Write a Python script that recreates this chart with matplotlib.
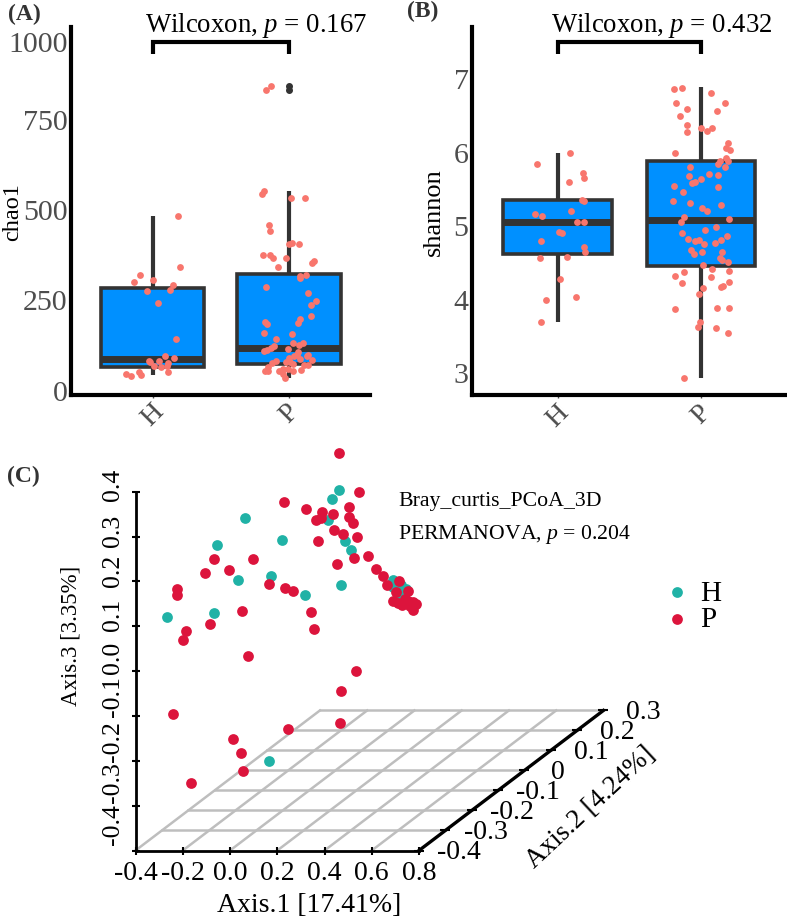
import numpy as np
import matplotlib
matplotlib.use('Agg')
import matplotlib.pyplot as plt
from matplotlib.transforms import ScaledTranslation

plt.rcParams['font.family'] = ['Liberation Serif', 'DejaVu Serif']
plt.rcParams['mathtext.fontset'] = 'custom'
plt.rcParams['mathtext.rm'] = 'Liberation Serif'
plt.rcParams['mathtext.it'] = 'Liberation Serif:italic'

W, H = 787, 920

# panel A, jitter offset from the category and chao1 value
chao_h_off = [.188, .198, -.095, 0, -.139, .149, .127, -.044, .037, .169, .090, .156,
              -.029, -.015, .046, .117, .010, .108, .064, .115, -.098, -.081, -.193, -.159]
chao_h = [481, 339, 319, 304, 299, 290, 277, 272, 241, 140, 93, 89,
          79, 78, 79, 74, 66, 67, 62, 49, 49, 40, 44, 38]
chao_p_off = [-.130, -.169, -.183, -.200, .012, .115, -.144, -.142, .020, -.002, .071, -.191,
              -.142, -.115, -.024, -.078, .186, .171, .127, .081, .081, -.169, .139, .196,
              .159, .164, .078, .064, -.174, -.164, -.183, .020, -.093, .032, .076, .100,
              -.108, -.134, -.164, -.181, -.007, .068, .056, .142, .130, .037, -.002, .081,
              .166, -.095, -.127, -.022, .007, .032, .142, .110, -.152, -.176, -.156, -.042,
              -.005, .032, .086, -.071, -.042, -.029]
chao_p = [855, 841, 551, 542, 531, 530, 457, 439, 406, 403, 404, 373,
          373, 366, 364, 339, 355, 352, 319, 316, 308, 285, 267, 246,
          235, 204, 195, 186, 187, 182, 157, 154, 140, 129, 125, 129,
          122, 116, 111, 108, 113, 104, 97, 97, 93, 93, 87, 85,
          82, 79, 74, 78, 76, 72, 70, 68, 62, 51, 51, 58,
          58, 53, 55, 51, 44, 33]
# panel A box stats: H, P
chao_stats = [dict(med=84, q1=64, q3=282, whislo=40, whishi=481, fliers=[]),
              dict(med=115, q1=72, q3=321, whislo=33, whishi=550, fliers=[855, 841])]

# panel B
shan_h_off = [.084, -.147, .174, .186, .077, .170, .186, .091, -.160, -.107, .135, .184,
              .009, .033, -.119, .184, .188, -.123, .067, .016, .128, -.084, -.116]
shan_h = [5.99, 5.84, 5.71, 5.64, 5.59, 5.35, 5.33, 5.19, 5.15, 5.13, 5.04, 5.04,
          4.91, 4.90, 4.78, 4.71, 4.64, 4.56, 4.57, 4.27, 4.03, 3.99, 3.68]
shan_p_off = [-.135, -.188, .067, .167, -.172, -.100, .112, -.147, -.095, .077, 0, .040,
              -.100, .191, .172, .202, -.184, .174, .191, .133, .121, .170, -.077, -.081,
              .056, .121, 0, -.042, -.060, -.188, .121, -.128, -.193, -.074, .137, .009,
              .040, -.116, .195, -.137, .105, .030, -.135, .179, -.088, -.044, -.016, .137,
              .098, .019, -.072, .144, .009, -.049, .133, .149, .191, .014, .077, -.119,
              .193, -.179, .072, -.133, .195, .151, .137, .012, -.014, -.184, .109, .193,
              -.007, -.023, .105, .188, -.119]
shan_p = [6.87, 6.85, 6.80, 6.66, 6.66, 6.59, 6.56, 6.49, 6.37, 6.33, 6.32, 6.29,
          6.27, 6.12, 6.05, 6.02, 5.98, 5.91, 5.87, 5.87, 5.83, 5.80, 5.80, 5.67,
          5.70, 5.68, 5.63, 5.59, 5.58, 5.53, 5.52, 5.45, 5.33, 5.31, 5.28, 5.23,
          5.19, 5.12, 5.08, 5.05, 4.98, 4.93, 4.89, 4.85, 4.81, 4.79, 4.80, 4.80,
          4.76, 4.75, 4.67, 4.64, 4.64, 4.61, 4.55, 4.53, 4.50, 4.46, 4.41, 4.37,
          4.38, 4.31, 4.30, 4.22, 4.23, 4.18, 4.16, 4.15, 4.07, 3.86, 3.88, 3.88,
          3.68, 3.61, 3.60, 3.54, 2.92]
shan_stats = [dict(med=5.04, q1=4.61, q3=5.34, whislo=3.68, whishi=5.98, fliers=[]),
              dict(med=5.07, q1=4.45, q3=5.87, whislo=2.92, whishi=6.88, fliers=[])]

groups = ['H', 'P']

# panel C, as projected on the Axis.1 / Axis.3 plane
pcoa_h_x = [-.268, -.066, .033, -.053, .063, .218, .175, .319, .468, .513, .485, .413, .430, .461,
            .164, .692, .689, .724, .743, .715]
pcoa_h_z = [.121, .130, .203, .282, .341, .292, .211, .170, .193, .269, .291, .338, .383, .404,
            -.200, .204, .187, .191, .183, .170]
pcoa_p_x = [.460, .546, .227, .323, .388, .365, .386, .437, .502, .503, .519, .440, .477, .537,
            .371, .586, .523, .454, .616, .648, .664, -.068, .099, -.105, -.005, -.223, -.223,
            .163, .232, .268, .051, .343, -.085, -.188, -.201, .357, .077, .532, .468, -.243,
            .464, .247, .012, .047, .054, -.164, .715, .703, .753, .689, .710, .729, .753,
            .774, .788, .774, .739, .764]
pcoa_p_z = [.486, .400, .376, .361, .355, .338, .341, .350, .367, .343, .330, .315, .306, .300,
            .289, .257, .252, .239, .228, .212, .192, .250, .249, .219, .225, .184, .170,
            .195, .186, .179, .135, .131, .104, .090, .069, .094, .034, .000, -.044, -.095,
            -.116, -.128, -.152, -.182, -.222, -.249, .202, .176, .179, .156, .152, .148, .157,
            .153, .149, .136, .161, .146]
axis1_ticks = [-0.4, -0.2, 0.0, 0.2, 0.4, 0.6, 0.8]
axis2_ticks = [-0.4, -0.3, -0.2, -0.1, 0, 0.1, 0.2, 0.3]
axis3_ticks = [-0.4, -0.3, -0.2, -0.1, 0.0, 0.1, 0.2, 0.3, 0.4]

box_blue = '#0090FF'
box_edge = '#333333'
salmon = '#F8766D'
grey_txt = '#4D4D4D'
teal = '#20B2A6'
red = '#DC143C'


def axes_px(left, top, right, bottom):
    return [left / W, 1 - bottom / H, (right - left) / W, (bottom - top) / H]


def px_text(x, y, s, **kw):
    kw.setdefault('ha', 'center')
    kw.setdefault('va', 'center')
    fig.text(x / W, 1 - y / H, s, **kw)


def box_panel(ax, stats, h_off, h_val, p_off, p_val):
    ax.bxp(stats, positions=[1, 2], widths=0.76, patch_artist=True, showcaps=False,
           boxprops=dict(facecolor=box_blue, edgecolor=box_edge, linewidth=2.6),
           medianprops=dict(color=box_edge, linewidth=5, solid_capstyle='butt'),
           whiskerprops=dict(color=box_edge, linewidth=3, solid_capstyle='butt'),
           flierprops=dict(marker='o', markerfacecolor=box_edge, markeredgecolor=box_edge,
                           markersize=4))
    ax.scatter(1 + np.array(h_off), h_val, s=24, color=salmon, linewidths=0, zorder=5)
    ax.scatter(2 + np.array(p_off), p_val, s=24, color=salmon, linewidths=0, zorder=5)
    ax.spines[['top', 'right']].set_visible(False)
    ax.spines[['left', 'bottom']].set_linewidth(3)
    ax.set_xticks([1, 2])
    ax.set_xticklabels(groups, rotation=45, ha='center', fontsize=20, color=grey_txt)
    ax.tick_params(axis='x', length=2, width=1, color=grey_txt, pad=1)
    ax.tick_params(axis='y', length=1.5, width=1, color=grey_txt, pad=1,
                   labelsize=21.5, labelcolor=grey_txt)


fig = plt.figure(figsize=(W / 100, H / 100), dpi=100)

# (A)
ax_a = fig.add_axes(axes_px(71, 28, 370, 395.5))
box_panel(ax_a, chao_stats, chao_h_off, chao_h, chao_p_off, chao_p)
# the ticks are not evenly spaced on the original, top part is squeezed
ax_a.set_yscale('function', functions=(
    lambda v: np.where(v < 750, v * 1.088, 816 + (v - 750) * 0.936),
    lambda u: np.where(u < 816, u / 1.088, 750 + (u - 816) / 0.936)))
ax_a.set_xlim(0.403, 2.593)
ax_a.set_ylim(-13, 1045)
ax_a.set_yticks([0, 250, 500, 750, 1000])
ax_a.set_yticklabels(['0', '250', '500', '750', '1000'])
ax_a.minorticks_off()
ax_a.plot([1, 1, 2, 2], [958, 996, 996, 958], color='black', lw=3, clip_on=False,
          solid_capstyle='butt', solid_joinstyle='miter')

# (B)
ax_b = fig.add_axes(axes_px(472, 28, 787, 396))
box_panel(ax_b, shan_stats, shan_h_off, shan_h, shan_p_off, shan_p)
ax_b.set_xlim(0.402, 2.6)
ax_b.set_ylim(2.69, 7.70)
ax_b.set_yticks([3, 4, 5, 6, 7])
ax_b.plot([1, 1, 2, 2], [7.33, 7.49, 7.49, 7.33], color='black', lw=3, clip_on=False,
          solid_capstyle='butt', solid_joinstyle='miter')

# (C) oblique projection, Axis.2 only shifts things sideways and up
ax_c = fig.add_axes(axes_px(135.5, 492.7, 419, 851.5))
ax_c.set_xlim(-0.4, 0.8)
ax_c.set_ylim(-0.4, 0.4)
ax_c.patch.set_alpha(0)
shear_x = 1.115
shear_z = 0.446


def floor(a1, a2):
    d = np.asarray(a2, dtype=float) + 0.4
    return a1 + d * shear_x, -0.4 + d * shear_z


for a2 in axis2_ticks[1:]:
    gx, gz = floor(np.array([-0.4, 0.8]), a2)
    ax_c.plot(gx, [gz, gz], color='#BEBEBE', lw=1.8, clip_on=False, zorder=1)
for a1 in axis1_ticks[:-1]:
    gx, gz = floor(a1, np.array([-0.4, 0.3]))
    ax_c.plot(gx, gz, color='#BEBEBE', lw=1.8, clip_on=False, zorder=1)

# Axis.2 line with its ticks and labels
ax2x, ax2z = floor(0.8, np.array(axis2_ticks))
ax_c.plot(ax2x, ax2z, color='black', lw=2.4, clip_on=False, zorder=2, marker='_',
          markersize=7, markeredgewidth=1.5)
for a2, tx, tz in zip(axis2_ticks, ax2x, ax2z):
    ax_c.annotate(str(a2), (tx, tz), xytext=(24 if a2 == 0 else 29, -1), textcoords='offset points',
                  ha='center', va='center', fontsize=20, annotation_clip=False)

h_pts = ax_c.scatter(pcoa_h_x, pcoa_h_z, s=60, color=teal, linewidths=0, clip_on=False, zorder=3, label='H')
p_pts = ax_c.scatter(pcoa_p_x, pcoa_p_z, s=60, color=red, linewidths=0, clip_on=False, zorder=4, label='P')

ax_c.spines[['top', 'right']].set_visible(False)
ax_c.spines[['left', 'bottom']].set_linewidth(2)
ax_c.set_xticks(axis1_ticks)
ax_c.set_xticklabels(['-0.4', '-0.2', '0.0', '0.2', '0.4', '0.6', '0.8'])
ax_c.set_yticks(axis3_ticks)
ax_c.set_yticklabels(['-0.4', '-0.3', '-0.2', '-0.1', '0.0', '0.1', '0.2', '0.3', '0.4'],
                     rotation=90, va='center')
ax_c.tick_params(axis='both', direction='inout', length=6, width=1.5)
ax_c.tick_params(axis='x', pad=4, labelsize=20)
ax_c.tick_params(axis='y', pad=5.5, labelsize=18.5)
# the Axis.3 labels drift up from their ticks
label_shift = [26.5, 24, 20, 20, 14, 12, 12, 7, 8]
for lab, dy in zip(ax_c.get_yticklabels(), label_shift):
    lab.set_transform(lab.get_transform() + ScaledTranslation(0, dy / 100, fig.dpi_scale_trans))

ax_c.legend(handles=[h_pts, p_pts], loc='center left', frameon=False, fontsize=21,
            bbox_to_anchor=(648 / W, 1 - 607 / H), bbox_transform=fig.transFigure,
            handlelength=1.0, handletextpad=0.3, labelspacing=0.0, borderpad=0, scatterpoints=1)

# texts
px_text(8, 14, '(A)', ha='left', fontsize=17, fontweight='bold', color='#333333')
px_text(407, 11, '(B)', ha='left', fontsize=17, fontweight='bold', color='#333333')
px_text(7, 476, '(C)', ha='left', fontsize=17, fontweight='bold', color='#333333')
px_text(256, 26, r'Wilcoxon, $\mathit{p}$ = 0.167', fontsize=19.3)
px_text(662, 26, r'Wilcoxon, $\mathit{p}$ = 0.432', fontsize=19.3)
px_text(13, 212, 'chao1', rotation=90, fontsize=17.5)
px_text(434, 212, 'shannon', rotation=90, fontsize=19)
px_text(398, 502, 'Bray_curtis_PCoA_3D', ha='left', fontsize=15.7)
px_text(398, 535, r'PERMANOVA, $\mathit{p}$ = 0.204', ha='left', fontsize=15.7)
px_text(309, 906, 'Axis.1 [17.41%]', fontsize=20)
px_text(71, 636, 'Axis.3 [3.35%]', rotation=90, fontsize=16.5)
px_text(591, 808, 'Axis.2 [4.24%]', rotation=43, fontsize=19.5)

fig.savefig('out.png', dpi=100)
